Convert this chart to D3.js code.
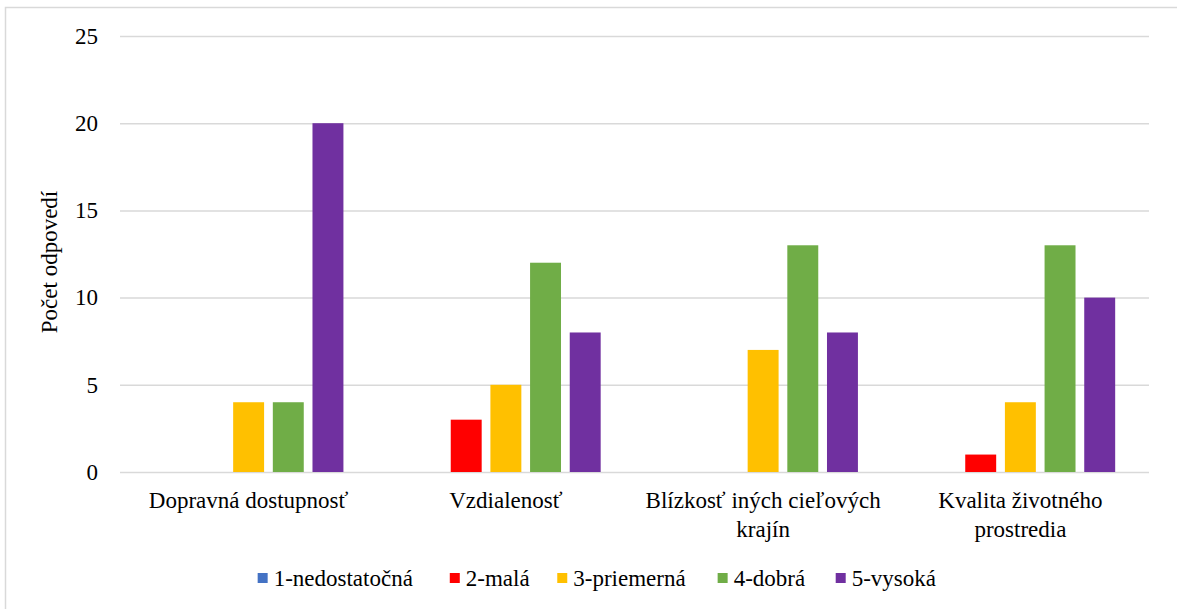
<!DOCTYPE html>
<html><head><meta charset="utf-8">
<script src="https://cdn.jsdelivr.net/npm/d3@7"></script>
</head><body style="margin:0">
<svg id="c" width="1177" height="609"></svg>
<script>
const categories = [["Dopravná dostupnosť"],["Vzdialenosť"],["Blízkosť iných cieľových","krajín"],["Kvalita životného","prostredia"]];
const series = ["1-nedostatočná","2-malá","3-priemerná","4-dobrá","5-vysoká"];
const colors = ["#4472C4","#FF0000","#FFC000","#70AD47","#7030A0"];
const values = [
  [0,0,4,4,20],
  [0,3,5,12,8],
  [0,0,7,13,8],
  [0,1,4,13,10]
];
const yTicks = [0,5,10,15,20,25];
const FONT = "Liberation Serif";
const FS = 23;

const svg = d3.select("#c");
svg.append("rect").attr("x",5.5).attr("y",7.5).attr("width",1180).attr("height",610)
  .attr("fill","#fff").attr("stroke","#D9D9D9").attr("stroke-width",1.5);

const L=120,R=1149,T=36,B=472;
const x0 = d3.scaleBand().domain(d3.range(categories.length)).range([L,R]);
const groupW = 189.6;
const x1 = d3.scaleBand().domain(d3.range(series.length))
  .range([(x0.bandwidth()-groupW)/2,(x0.bandwidth()+groupW)/2]).paddingInner(0.22);
const y = d3.scaleLinear().domain([0,25]).range([B,T]);

const yAxis = svg.append("g").attr("transform",`translate(${L},0)`)
  .call(d3.axisLeft(y).tickValues(yTicks).tickSize(-(R-L)).tickPadding(22));
yAxis.attr("font-family",FONT).attr("font-size",FS);
yAxis.select(".domain").remove();
yAxis.selectAll(".tick line").attr("stroke","#D9D9D9").attr("stroke-width",1.5);
yAxis.selectAll(".tick text").attr("fill","#000");

const g = svg.append("g");
values.forEach((row,ci)=>{
  g.selectAll(null).data(row).join("rect")
    .attr("x",(d,si)=>x0(ci)+x1(si))
    .attr("width",x1.bandwidth())
    .attr("y",d=>y(d))
    .attr("height",d=>B-y(d))
    .attr("fill",(d,si)=>colors[si]);
});

categories.forEach((lines,ci)=>{
  lines.forEach((s,i)=>{
    svg.append("text").attr("text-anchor","middle").attr("font-family",FONT).attr("font-size",FS)
      .attr("x",x0(ci)+x0.bandwidth()/2).attr("y",508+i*29).text(s);
  });
});

svg.append("text").attr("transform","translate(57,262) rotate(-90)").attr("font-family",FONT)
  .attr("text-anchor","middle").attr("font-size",FS).text("Počet odpovedí");

// legend (widths estimated from character count, no DOM measuring)
const estW = s => s.length*0.46*FS;
const gap=28, sq=10, sqGap=6;
const widths = series.map(s=>sq+sqGap+estW(s));
const total=d3.sum(widths)+gap*(series.length-1);
let cx=597-total/2;
series.forEach((s,i)=>{
  svg.append("rect").attr("x",cx).attr("y",573).attr("width",sq).attr("height",sq).attr("fill",colors[i]);
  svg.append("text").attr("x",cx+sq+sqGap).attr("y",586).attr("font-family",FONT).attr("font-size",FS).text(s);
  cx+=widths[i]+gap;
});
</script>
</body></html>
